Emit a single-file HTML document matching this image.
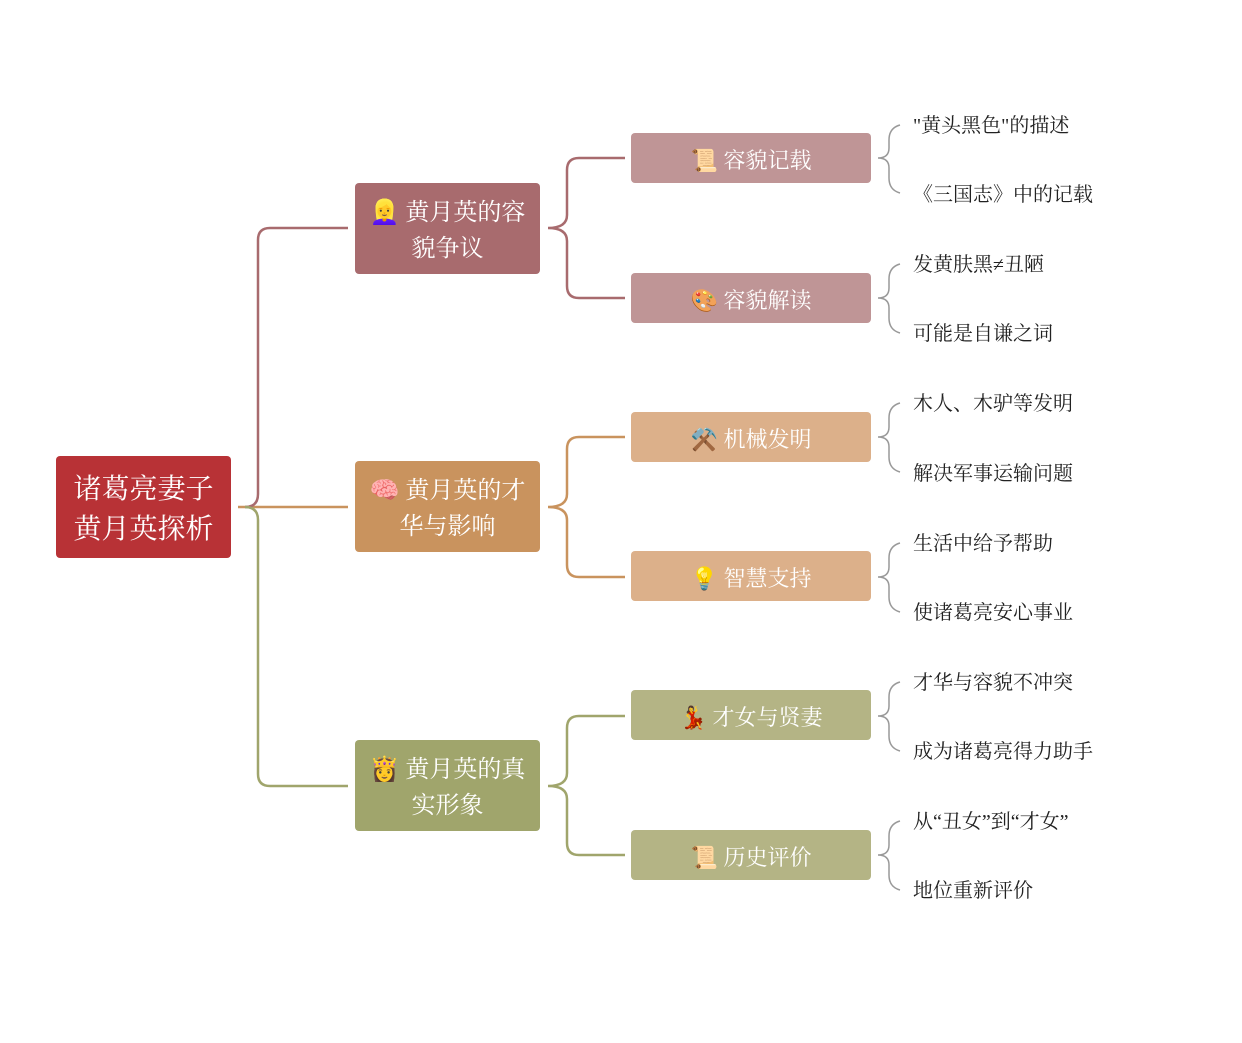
<!DOCTYPE html>
<html><head><meta charset="utf-8"><style>
body{margin:0;background:#fff;width:1242px;height:1043px;position:relative;overflow:hidden;font-family:"Liberation Serif","Noto Serif CJK SC",serif}
.b{position:absolute;display:flex;align-items:center;justify-content:center;text-align:center;color:#fff;border-radius:4px;box-sizing:border-box}
.r{left:56px;top:456px;width:175px;height:102px;background:#b83236;font-size:28px;line-height:40px;padding-top:6px}
.l1{left:355px;width:185px;height:91px;font-size:24px;line-height:36px;padding:4px 8px 0}
.l2{left:631px;width:240px;height:50px;font-size:22px;padding-top:2px}
.t{position:absolute;left:913px;font-size:20px;color:#222;line-height:24px;white-space:nowrap}
</style></head><body>
<svg width="1242" height="1043" style="position:absolute;left:0;top:0" fill="none">
<g stroke-width="2.5">
<path d="M238 507 H348" stroke="#c9935e"/>
<path d="M245 507 Q258 507 258 494 V240 Q258 228 270 228 H348" stroke="#a86b6e"/>
<path d="M245 507 Q258 507 258 520 V774 Q258 786 270 786 H348" stroke="#a0a56c"/>
<path d="M548 228 Q567 228 567 215 V170 Q567 158 579 158 H625 M548 228 Q567 228 567 241 V286 Q567 298 579 298 H625" stroke="#a86b6e"/>
<path d="M548 507 Q567 507 567 494 V449 Q567 437 579 437 H625 M548 507 Q567 507 567 520 V565 Q567 577 579 577 H625" stroke="#c9935e"/>
<path d="M548 786 Q567 786 567 773 V728 Q567 716 579 716 H625 M548 786 Q567 786 567 799 V843 Q567 855 579 855 H625" stroke="#a0a56c"/>
</g>
<g stroke="#999" stroke-width="1.5">
<path d="M900 125 Q889 128 889 140 V148 Q889 158 878 158 Q889 158 889 168 V178 Q889 190 900 193"/>
<path d="M900 264 Q889 267 889 279 V288 Q889 298 878 298 Q889 298 889 308 V318 Q889 330 900 333"/>
<path d="M900 403 Q889 406 889 418 V427 Q889 437 878 437 Q889 437 889 447 V457 Q889 469 900 472"/>
<path d="M900 543 Q889 546 889 558 V567 Q889 577 878 577 Q889 577 889 587 V597 Q889 609 900 612"/>
<path d="M900 682 Q889 685 889 697 V706 Q889 716 878 716 Q889 716 889 726 V736 Q889 748 900 751"/>
<path d="M900 821 Q889 824 889 836 V845 Q889 855 878 855 Q889 855 889 865 V875 Q889 887 900 890"/>
</g>
</svg>
<div class="b r">诸葛亮妻子<br>黄月英探析</div>
<div class="b l1" style="top:183px;background:#a86b6e">👱‍♀️ 黄月英的容貌争议</div>
<div class="b l1" style="top:461px;background:#c9935e">🧠 黄月英的才华与影响</div>
<div class="b l1" style="top:740px;background:#a0a56c">👸 黄月英的真实形象</div>
<div class="b l2" style="top:133px;background:#bf9596">📜 容貌记载</div>
<div class="b l2" style="top:273px;background:#bf9596">🎨 容貌解读</div>
<div class="b l2" style="top:412px;background:#dcb08a">⚒️ 机械发明</div>
<div class="b l2" style="top:551px;background:#dcb08a">💡 智慧支持</div>
<div class="b l2" style="top:690px;background:#b4b485">💃 才女与贤妻</div>
<div class="b l2" style="top:830px;background:#b4b485">📜 历史评价</div>
<div class="t" style="top:114px">"黄头黑色"的描述</div>
<div class="t" style="top:183px">《三国志》中的记载</div>
<div class="t" style="top:253px">发黄肤黑≠丑陋</div>
<div class="t" style="top:322px">可能是自谦之词</div>
<div class="t" style="top:392px">木人、木驴等发明</div>
<div class="t" style="top:462px">解决军事运输问题</div>
<div class="t" style="top:532px">生活中给予帮助</div>
<div class="t" style="top:601px">使诸葛亮安心事业</div>
<div class="t" style="top:671px">才华与容貌不冲突</div>
<div class="t" style="top:740px">成为诸葛亮得力助手</div>
<div class="t" style="top:810px">从“丑女”到“才女”</div>
<div class="t" style="top:879px">地位重新评价</div>
</body></html>
